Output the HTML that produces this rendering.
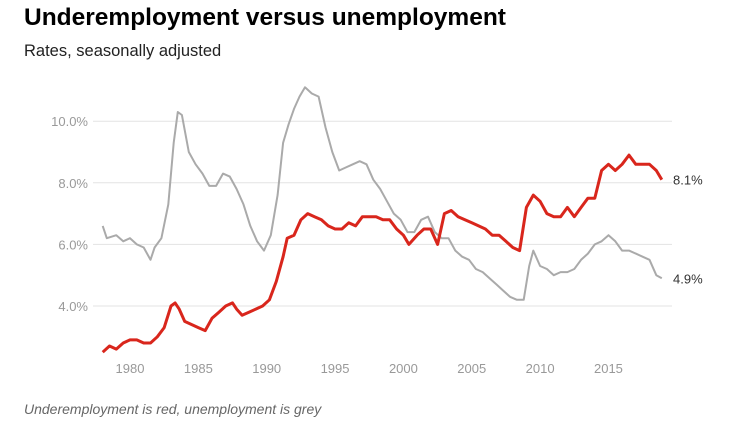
<!DOCTYPE html>
<html><head><meta charset="utf-8"><style>
body{margin:0;background:#fff;font-family:"Liberation Sans",sans-serif;}
#wrap{position:relative;width:754px;height:426px;overflow:hidden;}
.t{position:absolute;white-space:nowrap;}
</style></head><body>
<div id="wrap">
<div class="t" style="left:24px;top:4px;font-size:24.5px;font-weight:bold;color:#000;">Underemployment versus unemployment</div>
<div class="t" style="left:24px;top:42px;font-size:16.5px;color:#222;">Rates, seasonally adjusted</div>
<div class="t" style="left:24px;top:401px;font-size:14px;font-style:italic;color:#666;">Underemployment is red, unemployment is grey</div>
<svg id="chart" width="754" height="426" style="position:absolute;left:0;top:0"></svg>
</div>
<script>
const yTicks=[4,6,8,10];
const yTickLabels=["4.0%","6.0%","8.0%","10.0%"];
const xTicks=[1980,1985,1990,1995,2000,2005,2010,2015];
const unempYears=[1978,1978.3,1979,1979.5,1980,1980.5,1981,1981.5,1981.8,1982.3,1982.8,1983.2,1983.5,1983.8,1984.3,1984.8,1985.3,1985.8,1986.3,1986.8,1987.3,1987.8,1988.3,1988.8,1989.3,1989.8,1990.3,1990.8,1991.2,1991.6,1992,1992.4,1992.8,1993.3,1993.8,1994.3,1994.8,1995.3,1995.8,1996.3,1996.8,1997.3,1997.8,1998.3,1998.8,1999.3,1999.8,2000.3,2000.8,2001.3,2001.8,2002.3,2002.8,2003.3,2003.8,2004.3,2004.8,2005.3,2005.8,2006.3,2006.8,2007.3,2007.8,2008.3,2008.8,2009.2,2009.5,2010,2010.5,2011,2011.5,2012,2012.5,2013,2013.5,2014,2014.5,2015,2015.5,2016,2016.5,2017,2017.5,2018,2018.5,2018.9];
const unempValues=[6.6,6.2,6.3,6.1,6.2,6.0,5.9,5.5,5.9,6.2,7.3,9.3,10.3,10.2,9.0,8.6,8.3,7.9,7.9,8.3,8.2,7.8,7.3,6.6,6.1,5.8,6.3,7.6,9.3,9.9,10.4,10.8,11.1,10.9,10.8,9.8,9.0,8.4,8.5,8.6,8.7,8.6,8.1,7.8,7.4,7.0,6.8,6.4,6.4,6.8,6.9,6.4,6.2,6.2,5.8,5.6,5.5,5.2,5.1,4.9,4.7,4.5,4.3,4.2,4.2,5.3,5.8,5.3,5.2,5.0,5.1,5.1,5.2,5.5,5.7,6.0,6.1,6.3,6.1,5.8,5.8,5.7,5.6,5.5,5.0,4.9];
const underYears=[1978,1978.5,1979,1979.5,1980,1980.5,1981,1981.5,1982,1982.5,1983,1983.3,1983.6,1984,1984.5,1985,1985.5,1986,1986.5,1987,1987.5,1987.8,1988.2,1988.7,1989.2,1989.7,1990.2,1990.7,1991.2,1991.5,1992,1992.5,1993,1993.5,1994,1994.5,1995,1995.5,1996,1996.5,1997,1997.5,1998,1998.5,1999,1999.5,2000,2000.4,2001,2001.5,2002,2002.5,2003,2003.5,2004,2004.5,2005,2005.5,2006,2006.5,2007,2007.5,2008,2008.5,2009,2009.5,2010,2010.5,2011,2011.5,2012,2012.5,2013,2013.5,2014,2014.5,2015,2015.5,2016,2016.5,2017,2017.5,2018,2018.5,2018.9];
const underValues=[2.5,2.7,2.6,2.8,2.9,2.9,2.8,2.8,3.0,3.3,4.0,4.1,3.9,3.5,3.4,3.3,3.2,3.6,3.8,4.0,4.1,3.9,3.7,3.8,3.9,4.0,4.2,4.8,5.6,6.2,6.3,6.8,7.0,6.9,6.8,6.6,6.5,6.5,6.7,6.6,6.9,6.9,6.9,6.8,6.8,6.5,6.3,6.0,6.3,6.5,6.5,6.0,7.0,7.1,6.9,6.8,6.7,6.6,6.5,6.3,6.3,6.1,5.9,5.8,7.2,7.6,7.4,7.0,6.9,6.9,7.2,6.9,7.2,7.5,7.5,8.4,8.6,8.4,8.6,8.9,8.6,8.6,8.6,8.4,8.1];

const svg=document.getElementById('chart');
const NS='http://www.w3.org/2000/svg';
function xS(yr){return 130+(yr-1980)*13.67;}
function yS(v){return 306-(v-4)*30.8;}
function mk(tag,attrs){const e=document.createElementNS(NS,tag);for(const k in attrs)e.setAttribute(k,attrs[k]);svg.appendChild(e);return e;}
yTicks.forEach((v,i)=>{
  const l=mk('line',{x1:93,x2:672,y1:yS(v),y2:yS(v),stroke:'#e3e3e3','stroke-width':1});
  
  
  const t=mk('text',{x:88,y:yS(v)+5,'text-anchor':'end','font-size':13,fill:'#999','font-family':'Liberation Sans, sans-serif'});
  t.textContent=yTickLabels[i];
  
  
});
xTicks.forEach(yr=>{
  const t=mk('text',{x:xS(yr),y:373,'text-anchor':'middle','font-size':13,fill:'#999','font-family':'Liberation Sans, sans-serif'});
  t.textContent=yr;
  
  
});
function path(xs,vs){return xs.map((x,i)=>(i?'L':'M')+xS(x).toFixed(1)+','+yS(vs[i]).toFixed(1)).join('');}
const g=mk('path',{d:path(unempYears,unempValues),fill:'none',stroke:'#aaaaaa','stroke-width':2,'stroke-linejoin':'round'});


const r=mk('path',{d:path(underYears,underValues),fill:'none',stroke:'#d9261c','stroke-width':3,'stroke-linejoin':'round'});


const lr=mk('text',{x:673,y:yS(underValues[underValues.length-1])+5,'font-size':13,fill:'#333','font-family':'Liberation Sans, sans-serif'});
lr.textContent=underValues[underValues.length-1].toFixed(1)+'%';


const lg=mk('text',{x:673,y:yS(unempValues[unempValues.length-1])+5,'font-size':13,fill:'#333','font-family':'Liberation Sans, sans-serif'});
lg.textContent=unempValues[unempValues.length-1].toFixed(1)+'%';


</script>
</body></html>
